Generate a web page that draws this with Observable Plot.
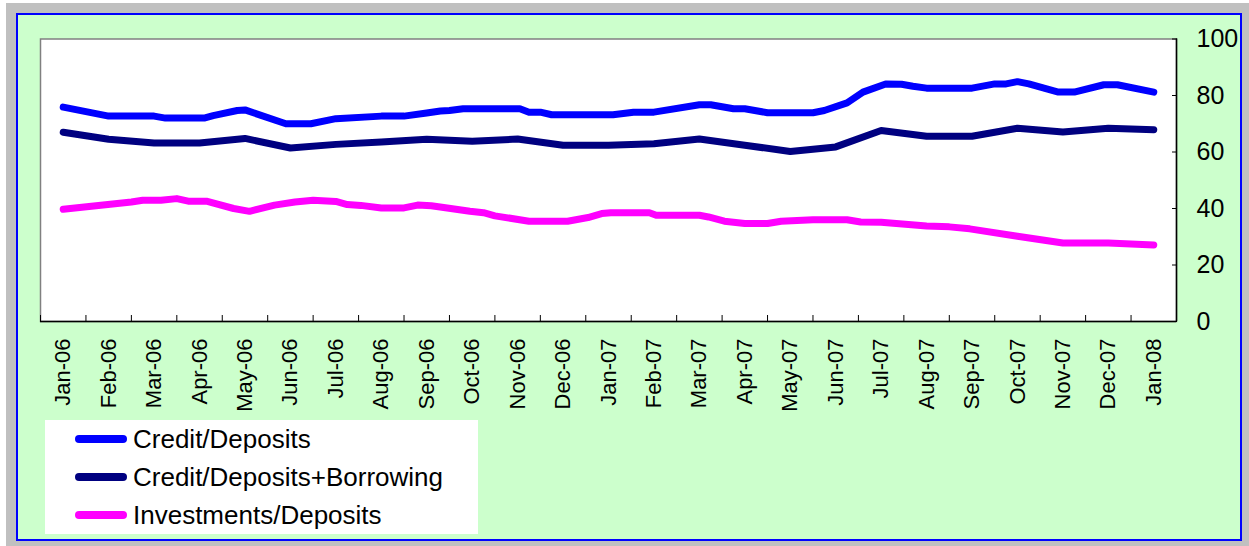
<!DOCTYPE html>
<html><head><meta charset="utf-8">
<script src="https://cdn.jsdelivr.net/npm/d3@7"></script>
<script src="https://cdn.jsdelivr.net/npm/@observablehq/plot@0.6"></script>
<style>
html,body{margin:0;padding:0;background:#fff;width:1249px;height:546px;overflow:hidden;font-family:"Liberation Sans",Arial,sans-serif;}
#frame{position:absolute;left:6px;top:3px;width:1243px;height:543px;background:#c0c0c0;}
#panel{position:absolute;left:16px;top:13px;width:1222px;height:524px;background:#ccffcc;border:2px solid #0000ff;}
#chart{position:absolute;left:0;top:0;}
#legend{position:absolute;left:45px;top:420px;width:433px;height:114px;background:#fff;}
.row{position:absolute;left:0;height:38px;display:flex;align-items:center;font-size:26px;color:#000;white-space:nowrap;}
.sw{display:inline-block;width:52px;height:8px;border-radius:4px;margin-left:30px;margin-right:6px;}
</style></head>
<body>
<div id="frame"></div>
<div id="panel"></div>
<div id="chart"></div>
<div id="legend"></div>
<script>
const months = ["Jan-06","Feb-06","Mar-06","Apr-06","May-06","Jun-06","Jul-06","Aug-06","Sep-06","Oct-06","Nov-06","Dec-06",
  "Jan-07","Feb-07","Mar-07","Apr-07","May-07","Jun-07","Jul-07","Aug-07","Sep-07","Oct-07","Nov-07","Dec-07","Jan-08"];
const yTicks = [0,20,40,60,80,100];
const seriesNames = ["Credit/Deposits","Credit/Deposits+Borrowing","Investments/Deposits"];
const seriesColors = ["#0000ff","#000080","#ff00ff"];

// Credit/Deposits (position in months from Jan-06, value)
const cdT = [0,1,2,2.25,3.1,3.3,3.83,4,4.9,5.45,6,7,7.5,8,8.3,8.5,8.8,10.05,10.25,10.5,10.75,12.1,12.55,13,14,14.25,14.75,15,15.5,16.5,16.75,17.25,17.6,18.1,18.45,18.7,19,20,20.5,20.75,21,21.25,21.9,22.25,22.9,23.2,24];
const cdV = [75.9,72.7,72.7,72.0,72.0,72.9,74.7,74.9,70.0,70.0,71.8,72.7,72.7,73.8,74.5,74.7,75.3,75.3,74.1,74.1,73.2,73.2,74.1,74.1,76.7,76.7,75.3,75.3,73.9,73.9,74.7,77.4,81.2,84.1,84.0,83.3,82.6,82.6,84.1,84.1,84.9,84.1,81.2,81.2,83.8,83.8,81.2];
// Credit/Deposits+Borrowing (monthly)
const cdbV = [67.0,64.5,63.2,63.2,64.8,61.4,62.7,63.5,64.5,63.8,64.6,62.4,62.4,62.9,64.6,62.4,60.2,61.8,67.6,65.6,65.6,68.4,67.1,68.4,67.9];
// Investments/Deposits
const idT = [0,1.5,1.75,2.15,2.5,2.75,3.15,3.75,4.1,4.65,5.1,5.5,6,6.25,6.55,7,7.5,7.8,8.1,8.45,8.95,9.25,9.5,10.25,11.1,11.55,11.85,12.05,12.9,13.05,14,14.2,14.55,15,15.5,15.8,16.5,17.25,17.55,18,19,19.5,19.95,21,22,23,24];
const idV = [39.7,42.3,42.9,42.9,43.5,42.6,42.6,40.0,39.0,41.2,42.3,42.9,42.5,41.4,41.1,40.2,40.2,41.2,41.0,40.2,39.0,38.5,37.4,35.5,35.5,36.8,38.2,38.5,38.5,37.6,37.6,37.0,35.5,34.7,34.7,35.5,36.0,36.0,35.2,35.1,33.8,33.5,32.8,30.2,27.8,27.8,27.1];

const rows = [];
cdT.forEach((t,i)=>rows.push({s:seriesNames[0],t,v:cdV[i]}));
cdbV.forEach((v,i)=>rows.push({s:seriesNames[1],t:i,v}));
idT.forEach((t,i)=>rows.push({s:seriesNames[2],t,v:idV[i]}));

const monthIdx = months.map((m,i)=>i);
const bounds = d3.range(months.length+1).map(i=>i-0.5);
const font = '"Liberation Sans", Arial, sans-serif';

const chart = Plot.plot({
  width: 1249, height: 415,
  marginLeft: 40, marginRight: 73, marginTop: 38.5, marginBottom: 94,
  style: {background: "transparent", fontFamily: font, color: "#000", overflow: "visible"},
  x: {type: "linear", domain: [-0.5, months.length-0.5], label: null},
  y: {domain: [0,100], label: null},
  color: {domain: seriesNames, range: seriesColors},
  marks: [
    Plot.frame({fill: "white", stroke: "#808080", strokeWidth: 1.5}),
    Plot.axisX(bounds, {anchor: "bottom", tickSize: -6, tickFormat: () => "", stroke: "#000", label: null}),
    Plot.axisX(monthIdx, {anchor: "bottom", tickSize: 0, tickPadding: 17, tickRotate: -90, fontSize: 22, tickFormat: i => months[i], label: null}),
    Plot.axisY(yTicks, {anchor: "right", tickSize: -5, tickFormat: () => "", stroke: "#000", label: null}),
    Plot.axisY(yTicks, {anchor: "right", tickSize: 0, tickPadding: 20, textAnchor: "start", fontSize: 25, label: null}),
    Plot.ruleY([0], {stroke: "#000", strokeWidth: 1.5}),
    Plot.ruleX([months.length-0.5], {stroke: "#000", strokeWidth: 1.5}),
    Plot.line(rows, {x: "t", y: "v", z: "s", stroke: "s", strokeWidth: 7, strokeLinecap: "round", strokeLinejoin: "round"})
  ]
});
document.getElementById("chart").appendChild(chart);

const legend = document.getElementById("legend");
seriesNames.forEach((n,i)=>{
  const r = document.createElement("div");
  r.className = "row";
  r.style.top = (i*38) + "px";
  const sw = document.createElement("span");
  sw.className = "sw"; sw.style.background = seriesColors[i];
  r.appendChild(sw);
  r.appendChild(document.createTextNode(n));
  legend.appendChild(r);
});
</script>
</body></html>
